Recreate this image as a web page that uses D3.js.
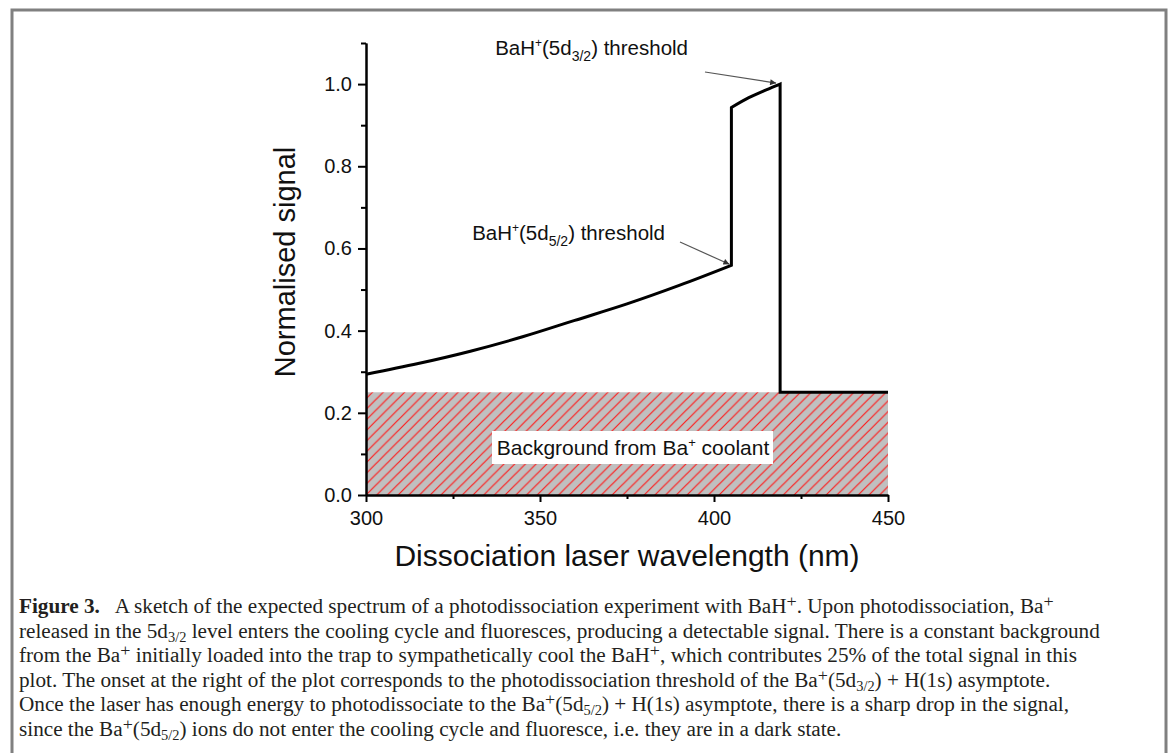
<!DOCTYPE html>
<html>
<head>
<meta charset="utf-8">
<script src="https://cdn.jsdelivr.net/npm/d3@7/dist/d3.min.js"></script>
<style>
  html, body { margin: 0; padding: 0; background: #fff; }
  svg { display: block; }
</style>
</head>
<body>
<svg id="chart" width="1170" height="753"></svg>
<script>
// ---------------- DATA ----------------
const curveX = [300, 315, 330, 345, 360, 375, 390, 405];
const curveY = [0.294, 0.320, 0.350, 0.385, 0.425, 0.465, 0.510, 0.559];
const peakX = [405, 410, 415, 419];
const peakY = [0.943, 0.967, 0.986, 1.0];
const dropX = 419;
const xEnd = 450;
const backgroundLevel = 0.25;
const xTicksMajor = [300, 350, 400, 450];
const xTicksMinor = [325, 375, 425];
const yTicksMajor = [0.0, 0.2, 0.4, 0.6, 0.8, 1.0];
const yTicksMinor = [0.1, 0.3, 0.5, 0.7, 0.9, 1.1];
const xTitle = "Dissociation laser wavelength (nm)";
const yTitle = "Normalised signal";
const captionLines = [
  [["Figure 3.", "b"], ["   A sketch of the expected spectrum of a photodissociation experiment with BaH", ""], ["+", "sup"], [". Upon photodissociation, Ba", ""], ["+", "sup"]],
  [["released in the 5d", ""], ["3/2", "sub"], [" level enters the cooling cycle and fluoresces, producing a detectable signal. There is a constant background", ""]],
  [["from the Ba", ""], ["+", "sup"], [" initially loaded into the trap to sympathetically cool the BaH", ""], ["+", "sup"], [", which contributes 25% of the total signal in this", ""]],
  [["plot. The onset at the right of the plot corresponds to the photodissociation threshold of the Ba", ""], ["+", "sup"], ["(5d", ""], ["3/2", "sub"], [") + H(1s) asymptote.", ""]],
  [["Once the laser has enough energy to photodissociate to the Ba", ""], ["+", "sup"], ["(5d", ""], ["5/2", "sub"], [") + H(1s) asymptote, there is a sharp drop in the signal,", ""]],
  [["since the Ba", ""], ["+", "sup"], ["(5d", ""], ["5/2", "sub"], [") ions do not enter the cooling cycle and fluoresce, i.e. they are in a dark state.", ""]]
];

// ---------------- LAYOUT ----------------
const svg = d3.select("#chart");
const sans = "'Liberation Sans', Arial, sans-serif";
const serif = "'Liberation Serif', 'Times New Roman', serif";

// figure frame
svg.append("rect").attr("x", 12).attr("y", 10).attr("width", 1154).attr("height", 760)
  .attr("fill", "none").attr("stroke", "#808080").attr("stroke-width", 3);

const x = d3.scaleLinear().domain([300, 450]).range([366, 888]);
const y = d3.scaleLinear().domain([0, 1.1]).range([495, 43]);

// hatch pattern
const defs = svg.append("defs");
const hs = 10.7;
const pat = defs.append("pattern").attr("id", "hatch").attr("patternUnits", "userSpaceOnUse")
  .attr("width", hs).attr("height", hs).attr("x", x(300)).attr("y", y(0));
pat.append("rect").attr("width", hs).attr("height", hs).attr("fill", "#c0c0c0");
pat.append("path").attr("d", `M0,${hs} L${hs},0 M${-hs/2},${hs/2} L${hs/2},${-hs/2} M${hs/2},${hs*1.5} L${hs*1.5},${hs/2}`)
  .attr("stroke", "#ff1a1a").attr("stroke-width", 1.2);

svg.append("rect")
  .attr("x", x(300)).attr("y", y(backgroundLevel))
  .attr("width", x(xEnd) - x(300)).attr("height", y(0) - y(backgroundLevel))
  .attr("fill", "url(#hatch)");

// background label
const bgG = svg.append("g");
bgG.append("rect").attr("x", 492).attr("y", 431).attr("width", 281).attr("height", 33).attr("fill", "#fff");
const bgT = bgG.append("text").attr("x", 633).attr("y", 455).attr("text-anchor", "middle")
  .attr("font-family", sans).attr("font-size", 21).attr("fill", "#111");
bgT.append("tspan").text("Background from Ba");
bgT.append("tspan").attr("font-size", 13).attr("dy", -8).text("+");
bgT.append("tspan").attr("dy", 8).text(" coolant");

// signal path
const lineC = d3.line().x(d => x(d[0])).y(d => y(d[1])).curve(d3.curveMonotoneX);
const seg1 = curveX.map((v, i) => [v, curveY[i]]);
const seg2 = peakX.map((v, i) => [v, peakY[i]]);
let dPath = lineC(seg1) + "L" + lineC(seg2).slice(1) +
  `L${x(dropX)},${y(backgroundLevel)}L${x(xEnd)},${y(backgroundLevel)}`;
svg.append("path").attr("d", dPath).attr("fill", "none").attr("stroke", "#000")
  .attr("stroke-width", 3).attr("stroke-linejoin", "miter");

// axes
function styleAxis(g) {
  g.selectAll("path.domain").attr("stroke", "#000").attr("stroke-width", 2);
  g.selectAll(".tick line").attr("stroke", "#000").attr("stroke-width", 2);
  g.selectAll(".tick text").attr("font-family", sans).attr("font-size", 20).attr("fill", "#111");
}
const yAxis = svg.append("g").attr("transform", `translate(${x(300)},0)`)
  .call(d3.axisLeft(y).tickValues(yTicksMajor).tickFormat(d3.format(".1f")).tickSize(8).tickSizeOuter(0).tickPadding(6));
styleAxis(yAxis);
const yMinor = svg.append("g").attr("transform", `translate(${x(300)},0)`)
  .call(d3.axisLeft(y).tickValues(yTicksMinor).tickFormat("").tickSize(5).tickSizeOuter(0));
styleAxis(yMinor);

const xAxis = svg.append("g").attr("transform", `translate(0,${y(0)})`)
  .call(d3.axisBottom(x).tickValues(xTicksMajor).tickFormat(d3.format("d")).tickSize(7).tickSizeOuter(0).tickPadding(9));
styleAxis(xAxis);
const xMinor = svg.append("g").attr("transform", `translate(0,${y(0)})`)
  .call(d3.axisBottom(x).tickValues(xTicksMinor).tickFormat("").tickSize(4).tickSizeOuter(0));
styleAxis(xMinor);

// axis titles
svg.append("text").attr("transform", "translate(295,262) rotate(-90)").attr("text-anchor", "middle")
  .attr("font-family", sans).attr("font-size", 29).attr("fill", "#111").text(yTitle);
svg.append("text").attr("x", 627).attr("y", 566).attr("text-anchor", "middle")
  .attr("font-family", sans).attr("font-size", 30).attr("fill", "#111").text(xTitle);

// annotations
function thresholdLabel(xEndPos, yBase, sub) {
  const t = svg.append("text").attr("x", xEndPos).attr("y", yBase).attr("text-anchor", "end")
    .attr("font-family", sans).attr("font-size", 20.5).attr("fill", "#111");
  t.append("tspan").text("BaH");
  t.append("tspan").attr("font-size", 12).attr("dy", -8).text("+");
  t.append("tspan").attr("dy", 8).text("(5d");
  t.append("tspan").attr("font-size", 14).attr("dy", 6).text(sub);
  t.append("tspan").attr("dy", -6).text(") threshold");
}
defs.append("marker").attr("id", "arrow").attr("viewBox", "0 0 10 10").attr("refX", 10).attr("refY", 5)
  .attr("markerWidth", 10).attr("markerHeight", 6).attr("markerUnits", "userSpaceOnUse").attr("orient", "auto")
  .append("path").attr("d", "M0,0 L10,5 L0,10 Z").attr("fill", "#333");

thresholdLabel(688, 55, "3/2");
svg.append("line").attr("x1", 705).attr("y1", 72).attr("x2", x(dropX) - 4).attr("y2", y(1.0) - 1)
  .attr("stroke", "#555").attr("stroke-width", 1.2).attr("marker-end", "url(#arrow)");

thresholdLabel(665, 240, "5/2");
svg.append("line").attr("x1", 680).attr("y1", 242).attr("x2", x(405) - 2).attr("y2", y(0.559) - 1)
  .attr("stroke", "#555").attr("stroke-width", 1.2).attr("marker-end", "url(#arrow)");

// caption
const capX = 19, capY0 = 613, capDY = 24.6, capFS = 20;
const capG = svg.append("g");
const capTexts = [];
captionLines.forEach((line, i) => {
  const t = capG.append("text").attr("x", 0).attr("y", capY0 + i * capDY)
    .attr("font-family", serif).attr("font-size", capFS).attr("fill", "#231f20")
    .style("white-space", "pre");
  let shift = 0;
  line.forEach(([txt, st]) => {
    const sp = t.append("tspan");
    let target = 0;
    if (st === "sup") target = -6;
    else if (st === "sub") target = 4;
    sp.attr("dy", target - shift);
    shift = target;
    if (st === "b") sp.attr("font-weight", "bold");
    if (st === "sub") sp.attr("font-size", capFS * 0.68);
    if (st === "sup") sp.attr("font-size", capFS * 0.85);
    sp.text(txt);
  });
  capTexts.push(t);
});
// stretch caption horizontally so the widest line spans the text block like the original typeface
const wRef = capTexts[1].node().getComputedTextLength();
const k = (1100 - capX) / wRef;
capG.attr("transform", `translate(${capX},0) scale(${k},1)`);
</script>
</body>
</html>
